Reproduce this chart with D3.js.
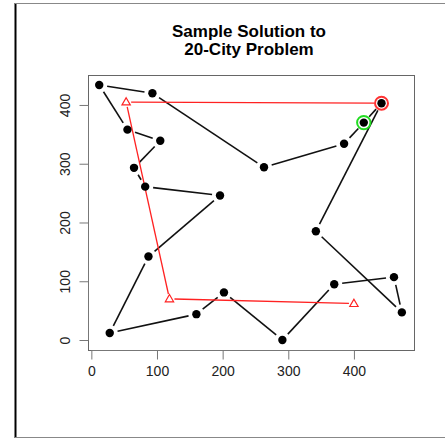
<!DOCTYPE html>
<html><head><meta charset="utf-8">
<script src="https://cdn.jsdelivr.net/npm/d3@7"></script>
<style>body{margin:0;background:#fff}svg{display:block}</style>
</head><body>
<script>
// City coordinates (tour order)
const tourX = [12, 93, 263, 385, 415, 442, 342, 473, 461, 370, 291, 202, 160, 28, 87, 196, 82, 65, 105, 55];
const tourY = [434, 420, 294, 334, 370, 403, 185, 47, 107, 95, 0, 81, 44, 12, 142, 246, 261, 293, 339, 358];
// Red path (partial sample)
const redX = [442, 53, 119, 400];
const redY = [403, 405, 70, 62];
const triIdx = [1, 2, 3];
const redCircle = {x: 442, y: 403};
const greenCircle = {x: 415, y: 370};
const xTicks = [0, 100, 200, 300, 400];
const yTicks = [0, 100, 200, 300, 400];
const titleLines = ["Sample Solution to", "20-City Problem"];

const W = 445, H = 439;
const svg = d3.select("body").append("svg").attr("width", W).attr("height", H);
const L = 88, R = 414, T = 75, B = 350;
const x = d3.scaleLinear().domain([-5.1, 491.5]).range([L, R]);
const y = d3.scaleLinear().domain([-17, 451]).range([B, T]);

// outer frame
svg.append("line").attr("x1", 15.5).attr("x2", 15.5).attr("y1", 3).attr("y2", 438).attr("stroke", "#000").attr("stroke-width", 2);
svg.append("line").attr("x1", 15).attr("x2", W).attr("y1", 3.5).attr("y2", 3.5).attr("stroke", "#888").attr("stroke-width", 1);
svg.append("line").attr("x1", 15).attr("x2", W).attr("y1", 437.5).attr("y2", 437.5).attr("stroke", "#888").attr("stroke-width", 1);

// title
svg.append("text").attr("x", 249).attr("text-anchor", "middle")
  .attr("font-family", "Liberation Sans, Arial, sans-serif").attr("font-weight", "bold").attr("font-size", 17)
  .selectAll("tspan").data(titleLines).join("tspan")
  .attr("x", 249).attr("y", (d, i) => 37 + i * 18).text(d => d);

// box
svg.append("rect").attr("x", L + 0.5).attr("y", T + 0.5).attr("width", R - L).attr("height", B - T)
  .attr("fill", "none").attr("stroke", "#666").attr("stroke-width", 1);

// axes
const font = "Liberation Sans, Arial, sans-serif";
const gx = svg.append("g").attr("transform", `translate(0,${B + 0.5})`)
  .call(d3.axisBottom(x).tickValues(xTicks).tickSize(9).tickPadding(7).tickFormat(d3.format("d")));
gx.select(".domain").attr("stroke", "#777").attr("d", `M${x(0)},0H${x(400)}`);
gx.selectAll(".tick line").attr("stroke", "#777");
gx.selectAll(".tick text").attr("font-family", font).attr("font-size", 14).attr("fill", "#222");

const gy = svg.append("g").attr("transform", `translate(${L + 0.5},0)`)
  .call(d3.axisLeft(y).tickValues(yTicks).tickSize(9).tickFormat(d3.format("d")));
gy.select(".domain").attr("stroke", "#777").attr("d", `M0,${y(0)}V${y(400)}`);
gy.selectAll(".tick line").attr("stroke", "#777");
gy.selectAll(".tick text").attr("font-family", font).attr("font-size", 14).attr("fill", "#222")
  .attr("text-anchor", "middle").attr("x", 0).attr("dy", 0)
  .attr("transform", "translate(-18.5,0) rotate(-90)");

// helper: segment with gaps
function gapSeg(x1, y1, x2, y2, g1, g2) {
  const dx = x2 - x1, dy = y2 - y1, len = Math.hypot(dx, dy);
  if (len <= g1 + g2) return null;
  const ux = dx / len, uy = dy / len;
  return [x1 + ux * g1, y1 + uy * g1, x2 - ux * g2, y2 - uy * g2];
}

// tour lines
const n = tourX.length;
const segs = [];
for (let i = 0; i < n; i++) {
  const j = (i + 1) % n;
  const s = gapSeg(x(tourX[i]), y(tourY[i]), x(tourX[j]), y(tourY[j]), 8, 8);
  if (s) segs.push(s);
}
svg.append("g").selectAll("line").data(segs).join("line")
  .attr("x1", d => d[0]).attr("y1", d => d[1]).attr("x2", d => d[2]).attr("y2", d => d[3])
  .attr("stroke", "#111").attr("stroke-width", 1.6);

// red path
const rsegs = [];
for (let i = 0; i < redX.length - 1; i++) {
  const s = gapSeg(x(redX[i]), y(redY[i]), x(redX[i + 1]), y(redY[i + 1]), i === 0 ? 7 : 5, 5);
  if (s) rsegs.push(s);
}
svg.append("g").selectAll("line").data(rsegs).join("line")
  .attr("x1", d => d[0]).attr("y1", d => d[1]).attr("x2", d => d[2]).attr("y2", d => d[3])
  .attr("stroke", "#f22").attr("stroke-width", 1.3);

// cities
svg.append("g").selectAll("circle").data(tourX.map((d, i) => [d, tourY[i]])).join("circle")
  .attr("cx", d => x(d[0])).attr("cy", d => y(d[1])).attr("r", 4.2).attr("fill", "#000");

// triangles
const tri = d3.symbol().type(d3.symbolTriangle).size(30);
svg.append("g").selectAll("path").data(triIdx).join("path")
  .attr("d", tri).attr("transform", i => `translate(${x(redX[i])},${y(redY[i]) + 0.5})`)
  .attr("fill", "none").attr("stroke", "#f22").attr("stroke-width", 1.2);

// highlight circles
svg.append("circle").attr("cx", x(redCircle.x)).attr("cy", y(redCircle.y)).attr("r", 6.5)
  .attr("fill", "none").attr("stroke", "#f33").attr("stroke-width", 2);
svg.append("circle").attr("cx", x(greenCircle.x)).attr("cy", y(greenCircle.y)).attr("r", 6.7)
  .attr("fill", "none").attr("stroke", "#22dd22").attr("stroke-width", 2);
</script>
</body></html>
